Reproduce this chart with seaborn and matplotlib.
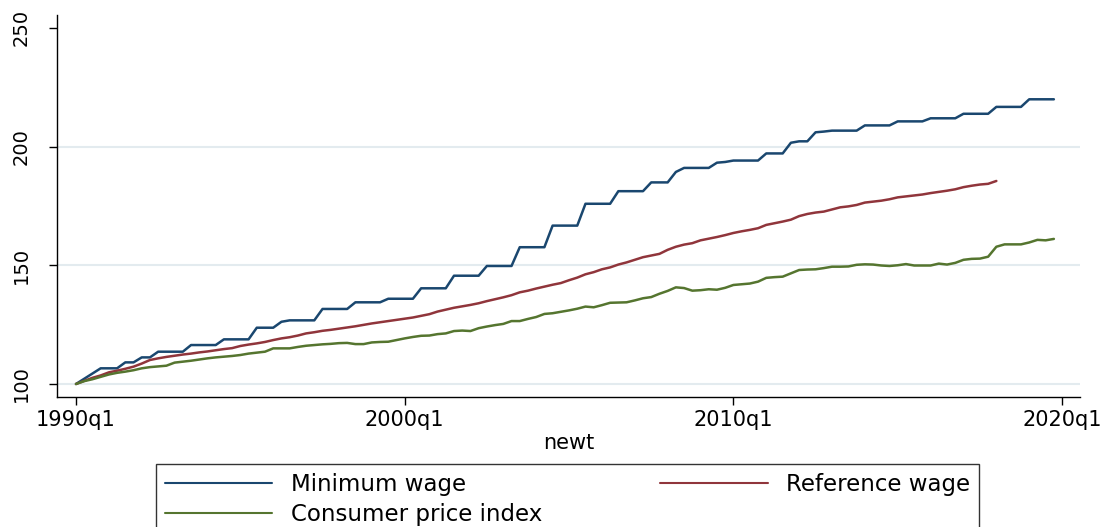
import numpy as np
import pandas as pd
import matplotlib
matplotlib.use("Agg")
import matplotlib.pyplot as plt
import seaborn as sns

# ---------------- data (quarterly, starting 1990q1) ----------------
start_year = 1990
series_names = ["Minimum wage", "Reference wage", "Consumer price index"]
series_colors = ["#1a476f", "#90353b", "#55752f"]

min_wage = [
    100.0, 102.2, 104.4, 106.6, 106.6, 106.6, 109.1, 109.1, 111.2, 111.2,
    113.6, 113.6, 113.6, 113.6, 116.4, 116.4, 116.4, 116.4, 118.8, 118.8,
    118.8, 118.8, 123.7, 123.7, 123.7, 126.2, 126.8, 126.8, 126.8, 126.8,
    131.6, 131.6, 131.6, 131.6, 134.4, 134.4, 134.4, 134.4, 135.9, 135.9,
    135.9, 135.9, 140.3, 140.3, 140.3, 140.3, 145.6, 145.6, 145.6, 145.6,
    149.7, 149.7, 149.7, 149.7, 157.6, 157.6, 157.6, 157.6, 166.7, 166.7,
    166.7, 166.7, 175.9, 175.9, 175.9, 175.9, 181.2, 181.2, 181.2, 181.2,
    184.9, 184.9, 184.9, 189.3, 191.0, 191.0, 191.0, 191.0, 193.2, 193.5,
    194.1, 194.1, 194.1, 194.1, 197.1, 197.1, 197.1, 201.6, 202.2, 202.2,
    206.0, 206.3, 206.7, 206.7, 206.7, 206.7, 208.9, 208.9, 208.9, 208.9,
    210.6, 210.6, 210.6, 210.6, 211.9, 211.9, 211.9, 211.9, 213.8, 213.8,
    213.8, 213.8, 216.7, 216.7, 216.7, 216.7, 219.9, 219.9, 219.9, 219.9,
]

ref_wage = [
    100.0, 101.3, 102.6, 103.6, 104.9, 105.6, 106.4, 107.3, 108.6, 110.1,
    110.8, 111.4, 111.9, 112.4, 112.8, 113.3, 113.7, 114.2, 114.7, 115.1,
    116.0, 116.6, 117.1, 117.7, 118.5, 119.2, 119.7, 120.4, 121.3, 121.8,
    122.4, 122.8, 123.3, 123.8, 124.3, 124.9, 125.5, 126.0, 126.5, 127.0,
    127.5, 128.0, 128.7, 129.4, 130.5, 131.3, 132.1, 132.7, 133.3, 134.0,
    134.9, 135.7, 136.5, 137.4, 138.6, 139.3, 140.2, 141.0, 141.8, 142.5,
    143.7, 144.8, 146.2, 147.1, 148.3, 149.1, 150.3, 151.2, 152.3, 153.4,
    154.1, 154.8, 156.5, 157.8, 158.7, 159.3, 160.5, 161.2, 161.9, 162.7,
    163.6, 164.3, 164.9, 165.6, 167.0, 167.7, 168.4, 169.2, 170.7, 171.6,
    172.2, 172.6, 173.5, 174.4, 174.8, 175.4, 176.4, 176.8, 177.2, 177.8,
    178.6, 179.0, 179.4, 179.8, 180.4, 180.9, 181.4, 182.0, 182.9, 183.5,
    184.0, 184.3, 185.5,
]

cpi = [
    100.0, 101.2, 102.0, 103.0, 104.0, 104.7, 105.2, 105.8, 106.6, 107.1,
    107.4, 107.7, 109.0, 109.4, 109.8, 110.3, 110.8, 111.2, 111.5, 111.8,
    112.2, 112.8, 113.2, 113.6, 115.0, 115.0, 115.0, 115.6, 116.1, 116.4,
    116.7, 116.9, 117.2, 117.3, 116.8, 116.8, 117.5, 117.7, 117.8, 118.5,
    119.2, 119.8, 120.3, 120.4, 121.0, 121.3, 122.3, 122.5, 122.3, 123.5,
    124.2, 124.8, 125.3, 126.5, 126.5, 127.4, 128.2, 129.5, 129.8, 130.4,
    131.0, 131.7, 132.6, 132.3, 133.2, 134.2, 134.3, 134.4, 135.2, 136.1,
    136.6, 138.0, 139.2, 140.7, 140.4, 139.3, 139.5, 139.9, 139.7, 140.5,
    141.7, 142.0, 142.3, 143.1, 144.7, 145.0, 145.2, 146.6, 148.0, 148.2,
    148.3, 148.8, 149.4, 149.4, 149.5, 150.2, 150.4, 150.3, 149.9, 149.7,
    150.0, 150.5, 149.9, 149.9, 149.9, 150.7, 150.3, 151.0, 152.3, 152.7,
    152.8, 153.6, 157.8, 158.8, 158.8, 158.8, 159.6, 160.7, 160.5, 161.1,
]

xtick_years = [1990, 2000, 2010, 2020]
xtick_labels = ["1990q1", "2000q1", "2010q1", "2020q1"]
yticks = [100, 150, 200, 250]


def quarter_time(n):
    # quarterly time in fractional years, 1990q1 -> 1990.0
    return start_year + np.arange(n) / 4.0


frames = []
for name, vals in zip(series_names, [min_wage, ref_wage, cpi]):
    frames.append(pd.DataFrame({"newt": quarter_time(len(vals)),
                                "value": vals, "series": name}))
df = pd.concat(frames, ignore_index=True)

# ---------------- figure ----------------
sns.set_theme(style="white")
plt.rcParams["font.family"] = ["DejaVu Sans"]
plt.rcParams["text.color"] = "black"

W, H = 1108, 527
fig = plt.figure(figsize=(W / 100, H / 100), dpi=100)
ax = fig.add_axes([57 / W, 1 - 397 / H, (1080 - 57) / W, (397 - 15) / H])

sns.lineplot(data=df, x="newt", y="value", hue="series",
             hue_order=series_names, palette=series_colors,
             linewidth=1.8, ax=ax, legend=True, sort=True)

handles, labels = ax.get_legend_handles_labels()
if ax.get_legend() is not None:
    ax.get_legend().remove()

ax.set_xlim(1989.422, 2020.545)
ax.set_ylim(94.52, 255.4)

ax.grid(False)
ax.yaxis.grid(True, color="#e3ebef", linewidth=1.5)
ax.set_axisbelow(True)

for side in ["top", "right"]:
    ax.spines[side].set_visible(False)
for side in ["left", "bottom"]:
    ax.spines[side].set_color("black")
    ax.spines[side].set_linewidth(1.0)

ax.set_xticks(xtick_years)
ax.set_xticklabels(xtick_labels)
ax.set_yticks(yticks)
ax.set_yticklabels([str(v) for v in yticks], rotation=90, va="center")
# no grid line at the top label (as in the reference)
ax.yaxis.get_gridlines()[-1].set_visible(False)

ax.tick_params(axis="both", which="major", bottom=True, left=True,
               direction="out", length=6, width=1.0, color="black",
               labelcolor="black")
ax.tick_params(axis="x", labelsize=15, pad=3.5)
ax.tick_params(axis="y", labelsize=14, pad=13)

ax.set_xlabel("newt", fontsize=15, color="black", labelpad=2)
ax.set_ylabel("")

# legend: row1 Minimum | Reference ; row2 CPI
order = [0, 2, 1]
leg = fig.legend([handles[i] for i in order], [labels[i] for i in order],
                 loc="upper left",
                 bbox_to_anchor=(156 / W, 1 - 464 / H, 823 / W, 0),
                 mode="expand", ncol=2, fontsize=16.5, frameon=True,
                 fancybox=False, edgecolor="black", facecolor="white",
                 labelcolor="black",
                 handlelength=4.7, handletextpad=0.8, borderpad=0.38,
                 labelspacing=0.33, borderaxespad=0)
leg.get_frame().set_linewidth(1.0)
for ln in leg.get_lines():
    ln.set_linewidth(1.5)

fig.savefig("out.png", dpi=100)
